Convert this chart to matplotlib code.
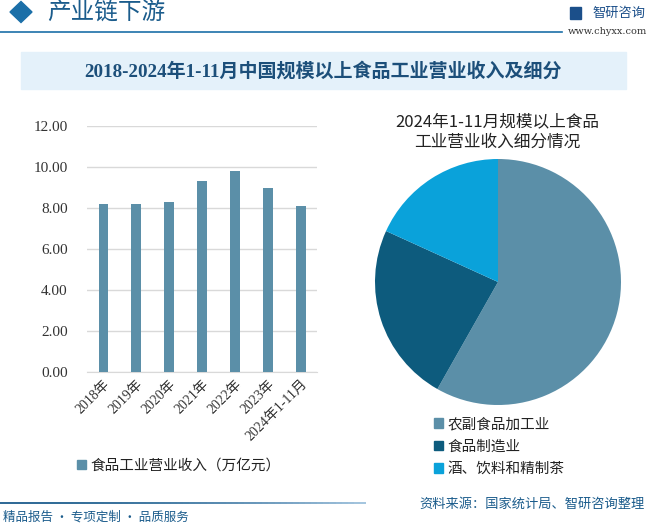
import matplotlib
matplotlib.use("Agg")
import matplotlib.pyplot as plt
from matplotlib.patches import Rectangle, Polygon
from matplotlib.collections import LineCollection
from matplotlib.colors import to_rgb
import numpy as np

plt.rcParams['font.family'] = ['Noto Sans CJK SC', 'DejaVu Sans']

# ---- data ----
years = ["2018年", "2019年", "2020年", "2021年", "2022年", "2023年", "2024年1-11月"]
revenue = [8.19, 8.19, 8.30, 9.32, 9.81, 8.98, 8.10]
bar_label = "食品工业营业收入（万亿元）"
yticks = [0, 2, 4, 6, 8, 10, 12]

pie_labels = ["农副食品加工业", "食品制造业", "酒、饮料和精制茶"]
pie_shares = [58.2, 23.6, 18.2]

title = "2018-2024年1-11月中国规模以上食品工业营业收入及细分"
pie_title = "2024年1-11月规模以上食品\n工业营业收入细分情况"

W, H = 648, 525
fig = plt.figure(figsize=(W / 100, H / 100), dpi=100)

def fx(x):
    return x / W

def fy(y):
    return 1 - y / H

bar_color = "#5B8FA8"
pie_colors = ["#5B8FA8", "#0D5B7D", "#0AA2DA"]
dark_blue = "#1B5C8C"
serif_cjk = ['Liberation Serif', 'Noto Sans CJK SC']

# header
fig.patches.append(Polygon([[fx(10), fy(12)], [fx(21), fy(1.5)], [fx(32), fy(12)], [fx(21), fy(22.5)]],
                           closed=True, transform=fig.transFigure, color="#1B6FA8"))
fig.text(fx(47), fy(13), "产业链下游", fontsize=17, color=dark_blue, va="center", ha="left")
fig.add_artist(plt.Line2D([fx(0), fx(562)], [fy(32), fy(32)], transform=fig.transFigure,
                          color="#1B6FA8", lw=1.2))
fig.text(fx(592), fy(13), "智研咨询", fontsize=9.5, color="#1B4F8A", va="center", ha="left")
fig.patches.append(Rectangle((fx(570), fy(19)), fx(11), 12 / H, transform=fig.transFigure,
                             color="#1B4F8A"))
fig.text(fx(647), fy(32), "www.chyxx.com", fontsize=7, color="#333333", va="center", ha="right",
         family="DejaVu Serif")

# title band
fig.patches.append(Rectangle((fx(21), fy(89)), fx(605), 37 / H, transform=fig.transFigure,
                             color="#E4F1FA", zorder=0))
fig.text(fx(323), fy(71), title, fontsize=13.7, fontweight="bold", color="#1C4F7A",
         va="center", ha="center", family=serif_cjk)

# bar chart
ax = fig.add_axes([fx(87), fy(372), fx(230), 246 / H])
x = np.arange(len(years))
ax.bar(x, revenue, width=0.3, color=bar_color, zorder=3, label=bar_label)
ax.set_xlim(-0.5, len(years) - 0.5)
ax.set_ylim(0, 12)
ax.set_yticks(yticks)
ax.set_yticklabels([f"{v:.2f}" for v in yticks], fontsize=11, color="#333333",
                   family="Liberation Serif")
ax.set_xticks(x)
ax.set_xticklabels(years, rotation=45, ha="right", rotation_mode="anchor", fontsize=10,
                   color="#333333", family=serif_cjk)
ax.grid(axis="y", color="#D9D9D9", lw=1, zorder=0)
for s in ["top", "right", "left"]:
    ax.spines[s].set_visible(False)
ax.spines["bottom"].set_color("#D9D9D9")
ax.tick_params(length=0, pad=14)
ax.tick_params(axis="x", pad=4)
ax.patch.set_alpha(0)
fig.legend(handles=[Rectangle((0, 0), 1, 1, color=bar_color)], labels=[bar_label],
           loc="center left", bbox_to_anchor=(fx(64), fy(466)), frameon=False,
           fontsize=10.5, handlelength=0.6, handleheight=0.6, handletextpad=0.3,
           labelcolor="#222222")

# pie chart
r = 123
pax = fig.add_axes([fx(498 - r), fy(282 + r), fx(2 * r), 2 * r / H])
pax.pie(pie_shares, colors=pie_colors, startangle=90, counterclock=False, radius=1,
        wedgeprops=dict(linewidth=0))
pax.set_xlim(-1, 1)
pax.set_ylim(-1, 1)
pax.set_aspect("equal")
pax.axis("off")
fig.text(fx(497), fy(132), pie_title, fontsize=12, color="#222222", ha="center", va="center",
         linespacing=1.25)
fig.legend(handles=[Rectangle((0, 0), 1, 1, color=c) for c in pie_colors], labels=pie_labels,
           loc="upper left", bbox_to_anchor=(fx(421), fy(404)), frameon=False,
           fontsize=10.5, handlelength=0.6, handleheight=0.6, handletextpad=0.3,
           labelspacing=0.58, labelcolor="#222222")

# footer line with gradient
n = 60
xs = np.linspace(0, 366, n + 1)
segs = [[(fx(xs[i]), fy(503)), (fx(xs[i + 1]), fy(503))] for i in range(n)]
c0, c1 = np.array(to_rgb("#1B5C8C")), np.array(to_rgb("#9CC0DC"))
cols = [c0 + (c1 - c0) * (i / (n - 1)) ** 2 for i in range(n)]
fig.add_artist(LineCollection(segs, colors=cols, linewidths=1.3, transform=fig.transFigure))
fig.text(fx(3), fy(517), "精品报告 · 专项定制 · 品质服务", fontsize=9, color="#1B5C8C",
         va="center", ha="left")
fig.text(fx(645), fy(504), "资料来源：国家统计局、智研咨询整理", fontsize=9.5, color="#1B5C8C",
         va="center", ha="right")

fig.savefig("out.png", dpi=100)
